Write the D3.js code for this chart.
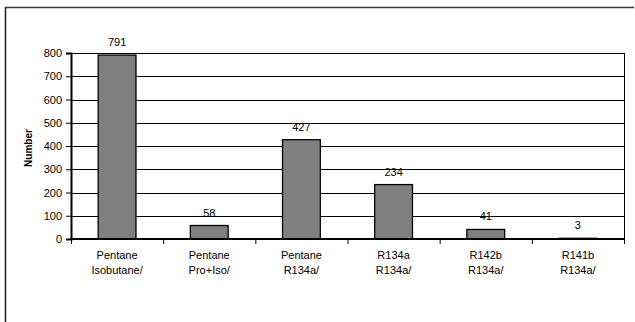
<!DOCTYPE html>
<html>
<head>
<meta charset="utf-8">
<script src="https://cdn.jsdelivr.net/npm/d3@7"></script>
<style>
  html, body { margin: 0; padding: 0; background: #fff; }
  svg { display: block; }
  text { font-family: "Liberation Sans", Arial, sans-serif; }
</style>
</head>
<body>
<svg id="chart" width="635" height="322"></svg>
<script>
const categoriesLine1 = ["Pentane", "Pentane", "Pentane", "R134a", "R142b", "R141b"];
const categoriesLine2 = ["Isobutane/", "Pro+Iso/", "R134a/", "R134a/", "R134a/", "R134a/"];
const values = [791, 58, 427, 234, 41, 3];
const yTicks = [0, 100, 200, 300, 400, 500, 600, 700, 800];
const yTitle = "Number";

const svg = d3.select("#chart");
const W = 635, H = 322;
const plot = { left: 71, right: 624, top: 53, bottom: 239 };

// outer frame (top and left edges visible)
svg.append("line").attr("x1", 5).attr("x2", 634).attr("y1", 7.5).attr("y2", 7.5)
  .attr("stroke", "#3a3a3a").attr("stroke-width", 1.5);
svg.append("line").attr("x1", 5.5).attr("x2", 5.5).attr("y1", 7).attr("y2", H)
  .attr("stroke", "#1a1a1a").attr("stroke-width", 1.5);

const idx = d3.range(values.length);
const x = d3.scaleBand().domain(idx).range([plot.left, plot.right]).padding(0);
const y = d3.scaleLinear().domain([0, 800]).range([plot.bottom, plot.top]);

// gridlines
svg.append("g").selectAll("line").data(yTicks.filter(t => t > 0)).join("line")
  .attr("x1", plot.left).attr("x2", plot.right)
  .attr("y1", d => Math.round(y(d)) + 0.5).attr("y2", d => Math.round(y(d)) + 0.5)
  .attr("stroke", "#000").attr("stroke-width", 1);

// right border of plot area
svg.append("line").attr("x1", plot.right + 0.5).attr("x2", plot.right + 0.5)
  .attr("y1", plot.top).attr("y2", plot.bottom).attr("stroke", "#000").attr("stroke-width", 1);

// bars
const barFrac = 0.41;
svg.append("g").selectAll("rect").data(values).join("rect")
  .attr("x", (d, i) => x(i) + x.bandwidth() * (1 - barFrac) / 2)
  .attr("width", x.bandwidth() * barFrac)
  .attr("y", d => y(d))
  .attr("height", d => y(0) - y(d))
  .attr("fill", "#808080")
  .attr("stroke", "#000")
  .attr("stroke-width", 1.3);

// value labels
svg.append("g").selectAll("text").data(values).join("text")
  .attr("x", (d, i) => x(i) + x.bandwidth() / 2)
  .attr("y", d => y(d) - 9)
  .attr("text-anchor", "middle")
  .attr("font-size", 11)
  .attr("fill", "#000")
  .text(d => d);

// y axis
const yAxis = d3.axisLeft(y).tickValues(yTicks).tickSize(5).tickPadding(4);
const gy = svg.append("g").attr("transform", `translate(${plot.left},0)`).call(yAxis);
gy.select(".domain").attr("stroke", "#000").attr("stroke-width", 2);
gy.selectAll(".tick line").attr("stroke", "#000");
gy.selectAll(".tick text").attr("font-size", 11).attr("fill", "#000")
  .attr("font-family", "Liberation Sans, Arial, sans-serif");

// x axis
const gx = svg.append("g").attr("transform", `translate(0,${plot.bottom})`);
gx.append("line").attr("x1", plot.left - 1).attr("x2", plot.right + 1)
  .attr("y1", 0).attr("y2", 0).attr("stroke", "#000").attr("stroke-width", 2);
gx.selectAll("line.tk").data(d3.range(values.length + 1)).join("line").attr("class", "tk")
  .attr("x1", i => (i < values.length ? x(i) : plot.right) + 0.5)
  .attr("x2", i => (i < values.length ? x(i) : plot.right) + 0.5)
  .attr("y1", 0).attr("y2", 5).attr("stroke", "#000");

const lbl = gx.selectAll("text.cat").data(idx).join("text").attr("class", "cat")
  .attr("text-anchor", "middle").attr("font-size", 11).attr("fill", "#000");
lbl.append("tspan").attr("x", i => x(i) + x.bandwidth() / 2).attr("y", 20).text(i => categoriesLine1[i]);
lbl.append("tspan").attr("x", i => x(i) + x.bandwidth() / 2).attr("y", 35).text(i => categoriesLine2[i]);

// y title
svg.append("text")
  .attr("transform", `translate(32,${(plot.top + plot.bottom) / 2 + 2}) rotate(-90)`)
  .attr("text-anchor", "middle")
  .attr("font-size", 10)
  .attr("font-weight", "bold")
  .attr("fill", "#000")
  .text(yTitle);
</script>
</body>
</html>
